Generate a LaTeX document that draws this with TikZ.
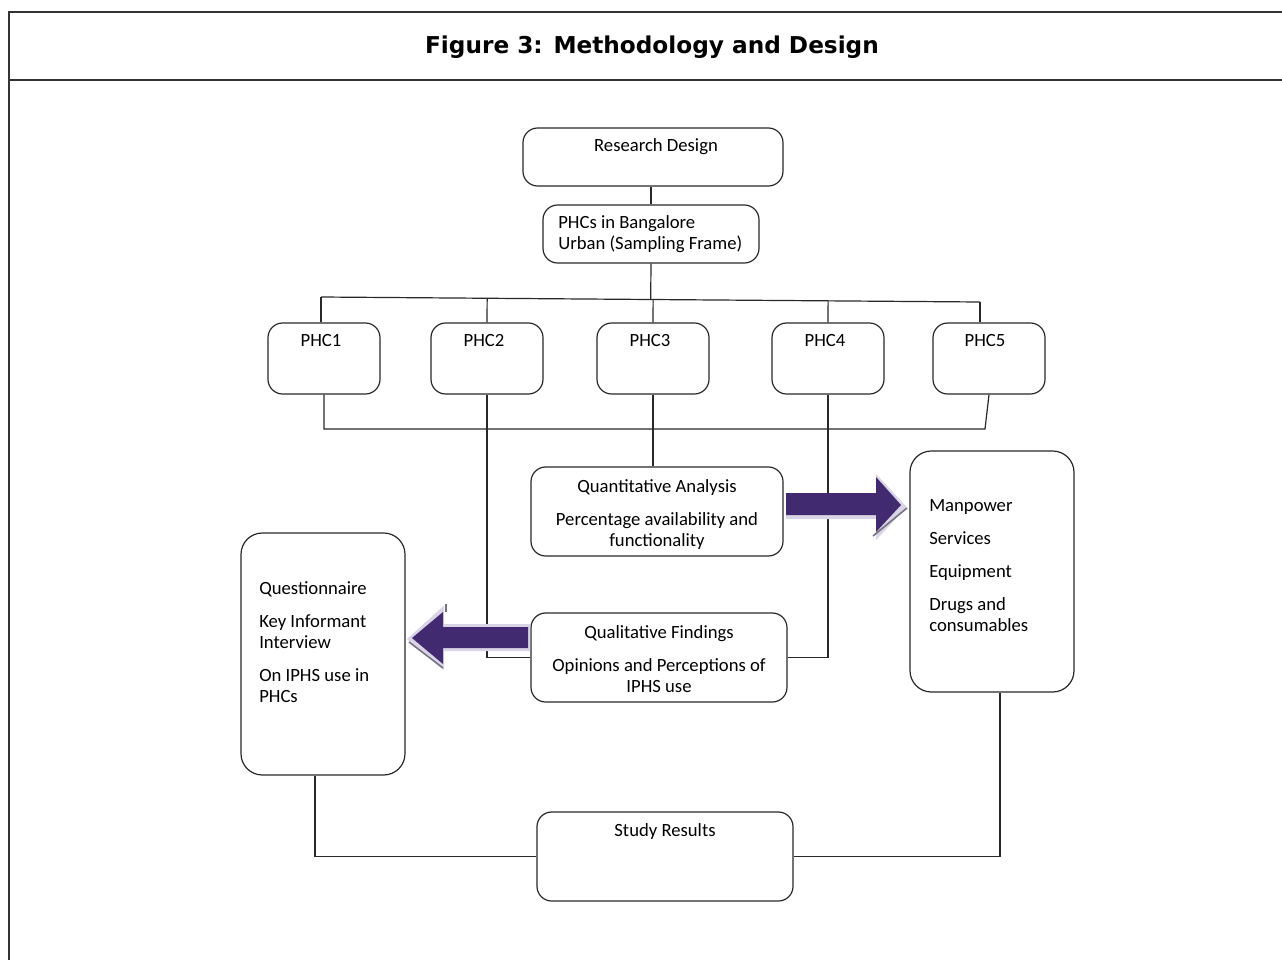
\documentclass[tikz,border=0pt]{standalone}
\usepackage{fontspec}
\setmainfont{Carlito}
\newfontfamily\titlefont{DejaVu Sans}
\usetikzlibrary{calc}
\definecolor{arrowpurple}{RGB}{66,42,112}
\definecolor{lineclr}{RGB}{40,40,40}
\definecolor{shadowlav}{RGB}{218,213,230}
\definecolor{shadowgray}{RGB}{120,115,130}
\begin{document}
\begin{tikzpicture}[x=0.75pt,y=-0.75pt,
  box/.style={draw=lineclr, line width=0.9pt, rounded corners=11pt, inner sep=0pt},
  conn/.style={draw=lineclr, line width=0.9pt},
  frame/.style={draw=black!80, line width=1.3pt},
  txt/.style={font=\fontsize{14}{15.75}\selectfont, inner sep=0pt, text=black},
  bigarrow/.style={fill=arrowpurple},
  arrowglow/.style={draw=shadowlav, fill=shadowlav, line width=3pt, line join=miter},
  arrowedge/.style={draw=shadowgray, line width=1.2pt}]
\useasboundingbox (0,0) rectangle (1282,960);

% frame and title
\draw[frame] (9,960) -- (9,12) -- (1282,12);
\draw[frame] (9,80) -- (1282,80);
\node[inner sep=0pt, font=\titlefont\bfseries\fontsize{17.4}{20}\selectfont] (title) at (652,47) {Figure 3: Methodology and Design};

% boxes
\node[box, minimum width={260*0.75pt}, minimum height={58*0.75pt}] (rd) at (653,157) {};
\node[box, minimum width={216*0.75pt}, minimum height={58*0.75pt}] (sf) at (651,234) {};
\node[box, minimum width={112*0.75pt}, minimum height={71*0.75pt}] (p1) at (324,358.5) {};
\node[box, minimum width={112*0.75pt}, minimum height={71*0.75pt}] (p2) at (487,358.5) {};
\node[box, minimum width={112*0.75pt}, minimum height={71*0.75pt}] (p3) at (653,358.5) {};
\node[box, minimum width={112*0.75pt}, minimum height={71*0.75pt}] (p4) at (828,358.5) {};
\node[box, minimum width={112*0.75pt}, minimum height={71*0.75pt}] (p5) at (989,358.5) {};
\node[box, minimum width={252*0.75pt}, minimum height={89*0.75pt}] (qa) at (657,511.5) {};
\node[box, minimum width={256*0.75pt}, minimum height={89*0.75pt}] (qf) at (659,657.5) {};
\node[box, rounded corners=16pt, minimum width={164*0.75pt}, minimum height={241*0.75pt}] (rb) at (992,571.5) {};
\node[box, rounded corners=16pt, minimum width={164*0.75pt}, minimum height={242*0.75pt}] (lb) at (323,654) {};
\node[box, minimum width={256*0.75pt}, minimum height={89*0.75pt}] (sr) at (665,856.5) {};

% texts (multi-line nodes: base = last line)
\node[txt, anchor=base] (rdt) at (656,151) {Research Design};
\node[txt, anchor=base west, align=left] (sft) at (558,249) {PHCs in Bangalore\\Urban (Sampling Frame)};
\node[txt, anchor=base] (p1t) at (321,346) {PHC1};
\node[txt, anchor=base] (p2t) at (484,346) {PHC2};
\node[txt, anchor=base] (p3t) at (650,346) {PHC3};
\node[txt, anchor=base] (p4t) at (825,346) {PHC4};
\node[txt, anchor=base] (p5t) at (985,346) {PHC5};
\node[txt, anchor=base, align=center] (qat) at (657,546) {Quantitative Analysis\\[9pt]Percentage availability and\\functionality};
\node[txt, anchor=base, align=center] (qft) at (659,692) {Qualitative Findings\\[9pt]Opinions and Perceptions of\\IPHS use};
\node[txt, anchor=base west, align=left] (rbt) at (929,631) {Manpower\\[9pt]Services\\[9pt]Equipment\\[9pt]Drugs and\\consumables};
\node[txt, anchor=base west, align=left] (lbt) at (259,702) {Questionnaire\\[9pt]Key Informant\\Interview\\[9pt]On IPHS use in\\PHCs};
\node[txt, anchor=base] (srt) at (665,836) {Study Results};

% connectors
\coordinate (bl) at (321,297);
\coordinate (br) at (980,302);
\coordinate (bb1) at (324,429);
\coordinate (bb5) at (985,429);
\draw[conn] (sf.north) -- (sf.north |- rd.south);
\draw[conn] (sf.south) -- ($(bl)!(sf.south)!(br)$);
\draw[conn] (bl) -- (br);
\draw[conn] (bl) -- (bl |- p1.north);
\draw[conn] (p2.north) -- ($(bl)!(p2.north)!(br)$);
\draw[conn] (p3.north) -- ($(bl)!(p3.north)!(br)$);
\draw[conn] (p4.north) -- ($(bl)!(p4.north)!(br)$);
\draw[conn] (br) -- (br |- p5.north);
\draw[conn] (p1.south) -- (bb1) -- (bb5) -- (p5.south);
\draw[conn] (p2.south) |- (qf.west);
\draw[conn] (p3.south) -- (p3.south |- qa.north);
\draw[conn] (p4.south) |- (qf.east);
\draw[conn] ([xshift=-6pt]lb.south) |- (sr.west);
\draw[conn] ([xshift=6pt]rb.south) |- (sr.east);

% big arrows
\path[arrowglow] (788,495) -- (878,495) -- (878,479) -- (904,507) -- (878,535) -- (878,517) -- (788,517) -- cycle;
\draw[arrowedge] (907,508) -- (873,536);
\fill[bigarrow] (786,493) -- (876,493) -- (876,477) -- (901,505) -- (876,532) -- (876,515) -- (786,515) -- cycle;

\path[arrowglow] (528,626) -- (442,626) -- (442,610) -- (410,639) -- (442,666) -- (442,649) -- (528,649) -- cycle;
\draw[arrowedge] (409,642) -- (443,668);
\draw[arrowedge] (446,604) -- (446,612);
\fill[bigarrow] (528,627) -- (443,627) -- (443,612) -- (412,638) -- (443,664) -- (443,648) -- (528,648) -- cycle;
\end{tikzpicture}
\end{document}
